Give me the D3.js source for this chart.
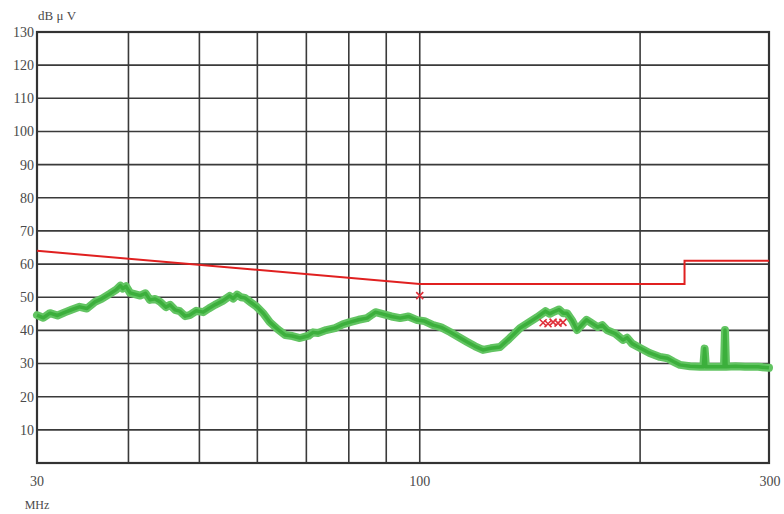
<!DOCTYPE html>
<html><head><meta charset="utf-8">
<script src="https://cdn.jsdelivr.net/npm/d3@7"></script>
<style>body{margin:0;background:#fff}svg{display:block}text{font-family:"Liberation Serif","DejaVu Serif",serif;fill:#4a4a4a}</style>
</head><body><svg id="c" width="784" height="514"></svg>
<script>
// Data
const yTicks = [10,20,30,40,50,60,70,80,90,100,110,120,130];
const xGrid = [40,50,60,70,80,90,100,200];
const xLabels = [30,100,300];
const traceFreq = [30,30.6,31.25,32.0,32.8,33.5,34.3,35.1,36.0,36.8,37.7,38.5,39.0,39.3,39.7,40.2,41.5,42.2,42.8,43.5,44.2,45.0,45.6,46.3,47.0,47.8,48.5,49.5,50.6,51.5,52.5,53.8,55.0,55.6,56.3,57.0,57.7,58.8,59.9,61.2,62.4,64.0,65.5,67.0,68.6,70.5,71.5,72.6,74.5,76.6,78.5,80.3,82.5,84.7,86.0,87.0,89.1,91.5,94.0,96.5,99.2,101.5,104.3,107.0,110.0,113.0,116.1,119.0,122.0,125.0,128.7,132.5,137.1,141.0,144.7,148.5,150.5,152.1,155.0,157.0,158.9,161.5,164.0,167.0,169.0,170.9,175.0,177.5,180.2,185.0,189.5,192.0,195.0,200.0,206.0,212.9,218.0,222.0,226.7,234.0,241.5,244.0,245.0,246.0,250.0,257.2,260.4,261.2,262.1,270.0,278.2,290.0,300];
const traceVal  = [44.6,43.8,45.2,44.5,45.5,46.3,47.1,46.6,48.6,49.6,51.0,52.3,53.5,52.6,53.3,51.3,50.5,51.2,49.2,49.5,48.6,47.0,47.7,46.2,45.8,44.3,44.6,45.9,45.5,46.6,47.7,48.9,50.4,49.6,50.8,50.0,49.8,48.4,47.1,45.0,42.5,40.3,38.6,38.3,37.7,38.4,39.4,39.2,40.1,40.7,41.8,42.5,43.2,43.7,44.7,45.5,44.9,44.2,43.7,44.2,43.1,42.8,41.6,40.9,39.5,38.0,36.5,35.2,34.1,34.6,35.0,37.5,40.7,42.4,44.0,45.8,45.0,45.5,46.3,45.2,45.2,43.0,40.1,42.0,43.2,42.5,41.0,41.6,40.1,39.0,37.1,37.8,36.0,34.7,33.2,32.0,31.6,30.6,29.6,29.2,29.0,29.0,34.5,29.0,29.0,29.0,29.0,40.1,29.0,29.2,29.0,29.0,28.7];
const limitFreq = [30,100,230,230,300];
const limitVal  = [64,54,54,61,61];
const peakFreq = [100,147.4,149.7,152.1,154.5,156.9];
const peakVal  = [50.5,42.3,42.0,42.5,42.2,42.4];

const svg = d3.select("#c");
const L=37, T=32, R=769, B=463;
const x = d3.scaleLog().domain([30,300]).range([L,R]);
const y = d3.scaleLinear().domain([0,130]).range([B,T]);

const g = svg.append("g");
g.selectAll("line.h").data(yTicks).join("line")
  .attr("x1",L).attr("x2",R).attr("y1",d=>y(d)).attr("y2",d=>y(d))
  .attr("stroke","#3a3a3a").attr("stroke-width",1.6);
g.selectAll("line.v").data(xGrid).join("line")
  .attr("y1",T).attr("y2",B).attr("x1",d=>x(d)).attr("x2",d=>x(d))
  .attr("stroke","#3a3a3a").attr("stroke-width",1.6);
g.append("rect").attr("x",L).attr("y",T).attr("width",R-L).attr("height",B-T)
  .attr("fill","none").attr("stroke","#333").attr("stroke-width",2.2);

svg.selectAll("text.yl").data(yTicks).join("text")
  .attr("x",34).attr("y",d=>y(d)).attr("dy","0.35em").attr("text-anchor","end")
  .attr("font-size",14).text(d=>d);
svg.append("text").attr("x",38).attr("y",20).attr("font-size",13).text("dB μ V");
svg.selectAll("text.xl").data(xLabels).join("text")
  .attr("x",d=>x(d)+(d===300?1:0)).attr("y",486).attr("text-anchor","middle")
  .attr("font-size",14).text(d=>d);
svg.append("text").attr("x",37).attr("y",509).attr("text-anchor","middle").attr("font-size",12).text("MHz");

const limit = limitFreq.map((f,i)=>[f,limitVal[i]]);
svg.append("path").datum(limit)
  .attr("d",d3.line().x(d=>x(d[0])).y(d=>y(d[1])))
  .attr("fill","none").attr("stroke","#e02020").attr("stroke-width",2);

const trace = traceFreq.map((f,i)=>[f,traceVal[i]]);
const ln = d3.line().x(d=>x(d[0])).y(d=>y(d[1]));
svg.append("path").datum(trace).attr("d",ln)
  .attr("fill","none").attr("stroke","#62c462").attr("stroke-width",8).attr("stroke-linejoin","round").attr("stroke-linecap","round");
svg.append("path").datum(trace).attr("d",ln)
  .attr("fill","none").attr("stroke","#3caf3c").attr("stroke-width",3.5).attr("stroke-linejoin","round");

const peaks = peakFreq.map((f,i)=>[f,peakVal[i]]);
const s=3.5;
svg.selectAll("path.pk").data(peaks).join("path")
  .attr("d",d=>{const px=x(d[0]),py=y(d[1]);return `M${px-s},${py-s}L${px+s},${py+s}M${px-s},${py+s}L${px+s},${py-s}`;})
  .attr("stroke","#e0303a").attr("stroke-width",1.6).attr("fill","none");
</script></body></html>
